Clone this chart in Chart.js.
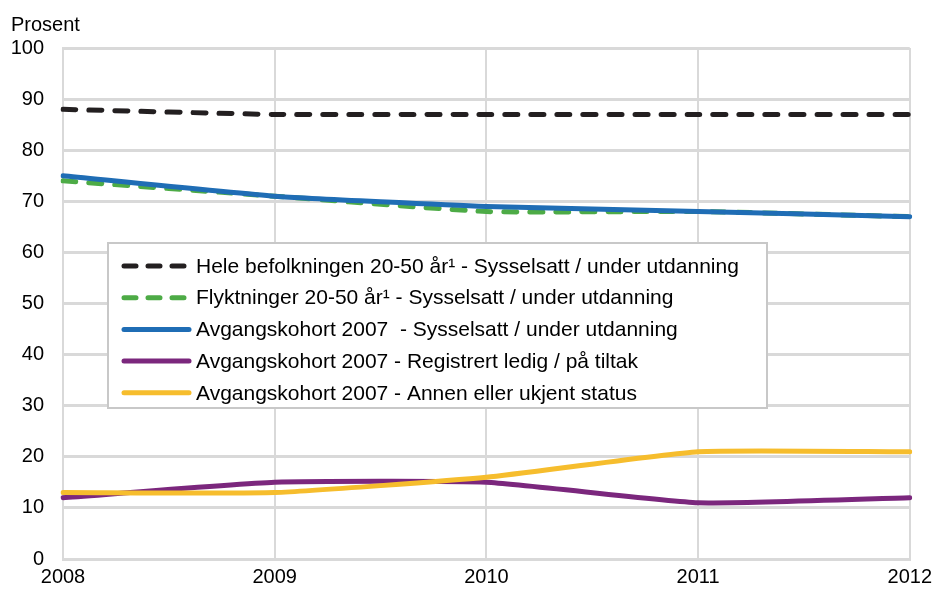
<!DOCTYPE html>
<html>
<head>
<meta charset="utf-8">
<script src="https://cdn.jsdelivr.net/npm/chart.js@4"></script>
<style>
  html, body { margin: 0; padding: 0; background: #fff; }
  #wrap { width: 938px; height: 590px; position: relative; }
</style>
</head>
<body>
<div id="wrap"><canvas id="chart" width="938" height="590"></canvas></div>
<script>
// data
const years = ['2008', '2009', '2010', '2011', '2012'];
const heleBefolkningen = [88, 87, 87, 87, 87];
const flyktninger = [74, 71, 68, 68, 67];
const avgangSysselsatt = [75, 71, 69, 68, 67];
const avgangLedig = [12, 15, 15, 11, 12];
const avgangAnnen = [13, 13, 16, 21, 21];
const yTicks = [0, 10, 20, 30, 40, 50, 60, 70, 80, 90, 100];

const labels = [
    'Hele befolkningen 20-50 år\u00b9 - Sysselsatt / under utdanning',
    'Flyktninger 20-50 år\u00b9 - Sysselsatt / under utdanning',
    'Avgangskohort 2007  - Sysselsatt / under utdanning',
    'Avgangskohort 2007 - Registrert ledig / på tiltak',
    'Avgangskohort 2007 - Annen eller ukjent status'
];
const colors = ['#231f20', '#4dab46', '#1f6db5', '#7b277d', '#f6bd2d'];
const dashes = [[13, 13], [13, 13], [], [], []];
const series = [heleBefolkningen, flyktninger, avgangSysselsatt, avgangLedig, avgangAnnen];

const FONT = '"Liberation Sans", Arial, sans-serif';

// legend box inside the plot + "Prosent" label
const boxLegend = {
    id: 'boxLegend',
    afterDatasetsDraw(chart) {
        const ctx = chart.ctx;
        ctx.save();
        const x0 = 108, y0 = 243, w = 659, h = 165;
        ctx.fillStyle = '#fff';
        ctx.fillRect(x0, y0, w, h);
        ctx.strokeStyle = '#c8c8c8';
        ctx.lineWidth = 2;
        ctx.strokeRect(x0, y0, w, h);

        ctx.font = '21px ' + FONT;
        ctx.textBaseline = 'middle';
        chart.data.datasets.forEach((ds, i) => {
            const cy = y0 + 23 + i * 31.7;
            ctx.beginPath();
            ctx.strokeStyle = ds.borderColor;
            ctx.lineWidth = 5;
            ctx.lineCap = 'round';
            ctx.setLineDash(ds.borderDash.length ? [12, 12] : []);
            ctx.moveTo(124, cy);
            ctx.lineTo(189, cy);
            ctx.stroke();
            ctx.setLineDash([]);
            ctx.fillStyle = '#000';
            ctx.fillText(ds.label, 196, cy + 1);
        });

        ctx.font = '20px ' + FONT;
        ctx.textBaseline = 'alphabetic';
        ctx.fillStyle = '#000';
        ctx.fillText('Prosent', 11, 31);
        ctx.restore();
    }
};

new Chart(document.getElementById('chart'), {
    type: 'line',
    data: {
        labels: years,
        datasets: series.map((d, i) => ({
            label: labels[i],
            data: d,
            borderColor: colors[i],
            backgroundColor: colors[i],
            borderWidth: 5,
            borderDash: dashes[i],
            borderCapStyle: 'round',
            pointRadius: 0,
            tension: 0.15,
            order: 5 - i
        }))
    },
    options: {
        responsive: false,
        animation: false,
        layout: { padding: { left: 0, right: 26, top: 48, bottom: 0 } },
        plugins: {
            legend: { display: false },
            tooltip: { enabled: false }
        },
        scales: {
            x: {
                offset: false,
                grid: { color: '#d9d9d9', lineWidth: 2, drawTicks: false },
                border: { color: '#d9d9d9', width: 3 },
                ticks: {
                    color: '#000',
                    font: { family: FONT, size: 20 },
                    padding: 6,
                    maxRotation: 0
                },
                afterFit: s => { s.height = 27; }
            },
            y: {
                min: 0,
                max: 100,
                afterBuildTicks: s => { s.ticks = yTicks.map(v => ({ value: v })); },
                grid: { color: '#d9d9d9', lineWidth: 3, drawTicks: false },
                border: { color: '#d9d9d9', width: 2 },
                ticks: {
                    color: '#000',
                    font: { family: FONT, size: 20 },
                    padding: 19
                },
                afterFit: s => { s.width = 63; }
            }
        }
    },
    plugins: [boxLegend]
});
</script>
</body>
</html>
